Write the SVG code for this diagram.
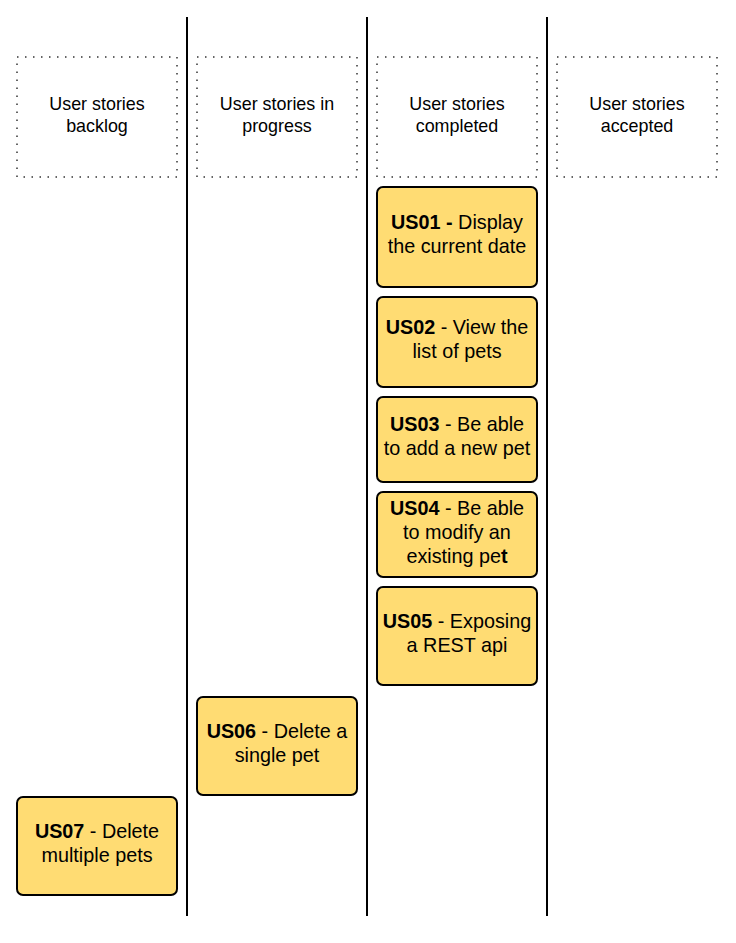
<svg xmlns="http://www.w3.org/2000/svg" width="736" height="943" viewBox="0 0 736 943">
<style>
.hdr{fill:none;stroke:#333;stroke-width:1.5;stroke-dasharray:1.5 6.5}
.card{fill:#FFDC73;stroke:#000;stroke-width:2}
.ht{font-family:"Liberation Sans",Arial,sans-serif;font-size:17.9px;fill:#000;text-anchor:middle}
.ct{font-family:"Liberation Sans",Arial,sans-serif;font-size:19.8px;fill:#000;text-anchor:middle}
.b{font-weight:bold}
.lane{stroke:#000;stroke-width:2}
</style>
<rect width="736" height="943" fill="#fff"/>
<g id="connectors">
<line class="lane" x1="187" y1="17" x2="187" y2="916"/>
<line class="lane" x1="367" y1="17" x2="367" y2="916"/>
<line class="lane" x1="547" y1="17" x2="547" y2="916"/>
</g>
<g id="h-backlog"><rect class="hdr" x="17" y="57" width="160" height="120"/>
<text class="ht" x="97" y="110">User stories</text><text class="ht" x="97" y="132">backlog</text></g>
<g id="h-progress"><rect class="hdr" x="197" y="57" width="160" height="120"/>
<text class="ht" x="277" y="110">User stories in</text><text class="ht" x="277" y="132">progress</text></g>
<g id="h-completed"><rect class="hdr" x="377" y="57" width="160" height="120"/>
<text class="ht" x="457" y="110">User stories</text><text class="ht" x="457" y="132">completed</text></g>
<g id="h-accepted"><rect class="hdr" x="557" y="57" width="160" height="120"/>
<text class="ht" x="637" y="110">User stories</text><text class="ht" x="637" y="132">accepted</text></g>
<g id="us01"><rect class="card" x="377" y="187" width="160" height="100" rx="6"/>
<text class="ct" x="457" y="229"><tspan class="b">US01 -</tspan> Display</text>
<text class="ct" x="457" y="253">the current date</text></g>
<g id="us02"><rect class="card" x="377" y="297" width="160" height="90" rx="6"/>
<text class="ct" x="457" y="334"><tspan class="b">US02</tspan> - View the</text>
<text class="ct" x="457" y="358">list of pets</text></g>
<g id="us03"><rect class="card" x="377" y="397" width="160" height="85" rx="6"/>
<text class="ct" x="457" y="431"><tspan class="b">US03</tspan> - Be able</text>
<text class="ct" x="457" y="455">to add a new pet</text></g>
<g id="us04"><rect class="card" x="377" y="492" width="160" height="85" rx="6"/>
<text class="ct" x="457" y="515"><tspan class="b">US04</tspan> - Be able</text>
<text class="ct" x="457" y="539">to modify an</text>
<text class="ct" x="457" y="563">existing pe<tspan class="b">t</tspan></text></g>
<g id="us05"><rect class="card" x="377" y="587" width="160" height="98" rx="6"/>
<text class="ct" x="457" y="628"><tspan class="b">US05</tspan> - Exposing</text>
<text class="ct" x="457" y="652">a REST api</text></g>
<g id="us06"><rect class="card" x="197" y="697" width="160" height="98" rx="6"/>
<text class="ct" x="277" y="738"><tspan class="b">US06</tspan> - Delete a</text>
<text class="ct" x="277" y="762">single pet</text></g>
<g id="us07"><rect class="card" x="17" y="797" width="160" height="98" rx="6"/>
<text class="ct" x="97" y="838"><tspan class="b">US07</tspan> - Delete</text>
<text class="ct" x="97" y="862">multiple pets</text></g>
</svg>
